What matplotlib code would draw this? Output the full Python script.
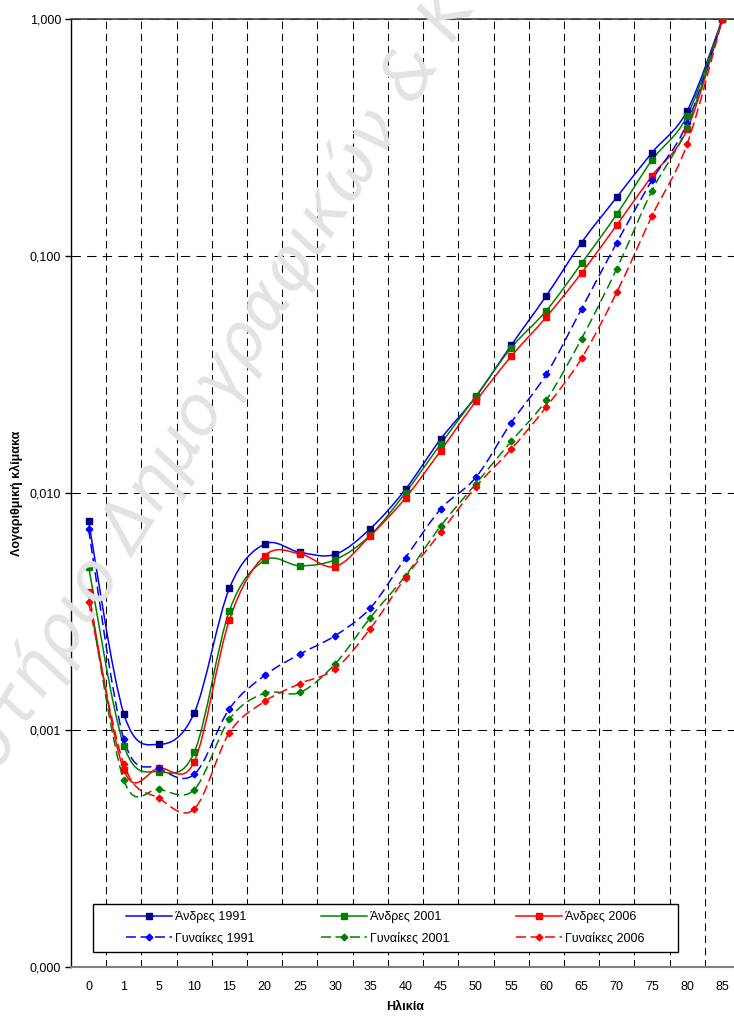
import numpy as np
import matplotlib
matplotlib.use("Agg")
import matplotlib.pyplot as plt
from matplotlib.path import Path
from matplotlib.patches import PathPatch, Rectangle
from matplotlib.lines import Line2D
from matplotlib.ticker import FixedLocator, NullLocator

plt.rcParams['font.family'] = ['Liberation Sans', 'DejaVu Sans']

# age groups (category axis)
ages = ['0', '1', '5', '10', '15', '20', '25', '30', '35', '40', '45',
        '50', '55', '60', '65', '70', '75', '80', '85']

# probabilities of death
men_1991 = [0.0076, 0.00117, 0.00087, 0.00118, 0.00397, 0.00609, 0.00562, 0.00551, 0.00707,
            0.01037, 0.0169, 0.0255, 0.042, 0.068, 0.114, 0.177, 0.273, 0.41, 1.0]
men_2001 = [0.00489, 0.00086, 0.000667, 0.000805, 0.00319, 0.0052, 0.00493, 0.00523, 0.00663,
            0.01003, 0.0161, 0.0256, 0.041, 0.0588, 0.0931, 0.150, 0.254, 0.39, 1.0]
men_2006 = [0.00383, 0.000678, 0.00069, 0.000735, 0.00292, 0.00544, 0.00554, 0.00489, 0.0066,
            0.00953, 0.0151, 0.0244, 0.0377, 0.0553, 0.0848, 0.135, 0.218, 0.342, 1.0]
women_1991 = [0.00703, 0.000914, 0.00069, 0.00065, 0.00123, 0.0017, 0.00209, 0.0025, 0.00327,
              0.00533, 0.00856, 0.01165, 0.0198, 0.0317, 0.0598, 0.1138, 0.209, 0.363, 1.0]
women_2001 = [0.00375, 0.000615, 0.000562, 0.00056, 0.00111, 0.00143, 0.00144, 0.0019, 0.00298,
              0.00448, 0.00726, 0.01095, 0.0165, 0.0247, 0.0448, 0.0884, 0.1886, 0.351, 1.0]
women_2006 = [0.00348, 0.000717, 0.000515, 0.000464, 0.000975, 0.00132, 0.00157, 0.00181, 0.00268,
              0.0044, 0.00683, 0.01063, 0.0153, 0.0231, 0.037, 0.0703, 0.1475, 0.297, 1.0]

series = [
    ('Άνδρες 1991', men_1991, '#0000FF', '#000080', 's', '-'),
    ('Άνδρες 2001', men_2001, '#008000', '#008000', 's', '-'),
    ('Άνδρες 2006', men_2006, '#FF0000', '#FF0000', 's', '-'),
    ('Γυναίκες 1991', women_1991, '#0000FF', '#0000FF', 'D', '--'),
    ('Γυναίκες 2001', women_2001, '#008000', '#008000', 'D', '--'),
    ('Γυναίκες 2006', women_2006, '#FF0000', '#FF0000', 'D', '--'),
]
DASH = (0, (6.5, 3))


def smooth_path(xs, ys):
    # Excel-like smoothed line: Bezier segments, control points in (x, log y)
    x = np.asarray(xs, float)
    ly = np.log10(np.asarray(ys, float))
    n = len(x)
    verts = [(x[0], ly[0])]
    codes = [Path.MOVETO]
    for i in range(n - 1):
        p0 = np.array([x[max(i - 1, 0)], ly[max(i - 1, 0)]])
        p1 = np.array([x[i], ly[i]])
        p2 = np.array([x[i + 1], ly[i + 1]])
        p3 = np.array([x[min(i + 2, n - 1)], ly[min(i + 2, n - 1)]])
        c1 = p1 + (p2 - p0) / 6.0
        c2 = p2 - (p3 - p1) / 6.0
        verts += [tuple(c1), tuple(c2), tuple(p2)]
        codes += [Path.CURVE4] * 3
    verts = np.array(verts)
    verts[:, 1] = 10 ** verts[:, 1]
    return Path(verts, codes)


fig = plt.figure(figsize=(7.34, 10.16), dpi=100)
ax = fig.add_axes([71 / 734, 1 - 967 / 1016, 669 / 734, 948 / 1016])

# watermark
fig.text(-0.127, 0.0965, 'Εργαστήριο Δημογραφικών & Κοινωνικών Αναλύσεων',
         rotation=58, rotation_mode='anchor', ha='left', va='baseline',
         fontsize=49, color='#e3e3e3', style='italic', family='DejaVu Sans', zorder=0)
ax.set_facecolor('none')

x = np.arange(len(ages))
handles = []
for label, vals, lc, mc, mk, ls in series:
    style = DASH if ls == '--' else '-'
    ax.add_patch(PathPatch(smooth_path(x, vals), fill=False, edgecolor=lc, lw=1.1,
                           linestyle=style, zorder=3))
    ms = 4.3 if mk == 's' else 3.4
    ax.plot(x, vals, linestyle='none', marker=mk, color=mc, markersize=ms, zorder=4)
    handles.append(Line2D([], [], color=lc, lw=1.1, linestyle=style, label=label,
                          marker=mk, markerfacecolor=mc, markeredgecolor=mc, markersize=ms))

ax.set_yscale('log')
ax.set_ylim(1e-4, 1)
ax.set_xlim(-0.5, len(ages) - 0.5)

ax.yaxis.set_major_locator(FixedLocator([1e-4, 1e-3, 1e-2, 1e-1, 1]))
ax.yaxis.set_minor_locator(NullLocator())
ax.set_yticklabels(['0,000', '0,001', '0,010', '0,100', '1,000'])
ax.set_xticks(x)
ax.set_xticklabels(ages)
ax.xaxis.set_minor_locator(FixedLocator(np.arange(len(ages) - 1) + 0.5))
ax.tick_params(axis='x', which='both', length=0, pad=10, labelsize=9)
ax.tick_params(axis='y', which='major', length=4, width=1, pad=3, labelsize=9, direction='out')

ax.grid(True, axis='x', which='minor', color='black', lw=0.75, linestyle=(0, (7.2, 4.5)))
ax.grid(True, axis='y', which='major', color='black', lw=0.75, linestyle=(0, (9, 6)))
ax.grid(False, axis='x', which='major')
ax.set_axisbelow(True)

ax.spines['right'].set_visible(False)
ax.spines['top'].set_color('#404040')
ax.spines['top'].set_linewidth(1.2)
ax.spines['bottom'].set_color('#808080')
ax.spines['bottom'].set_linewidth(1.5)
ax.spines['left'].set_color('black')
ax.spines['left'].set_linewidth(1.0)

ax.set_xlabel('Ηλικία', fontsize=9, fontweight='bold', labelpad=6)
ax.set_ylabel('Λογαριθμική κλίμακα', fontsize=9, fontweight='bold', labelpad=5)

# legend box (drawn separately so the padding matches the original)
bx0, bx1 = (93 - 71) / 669, (677.5 - 71) / 669
by0, by1 = (967 - 952) / 948, (967 - 904) / 948
ax.add_patch(Rectangle((bx0, by0), bx1 - bx0, by1 - by0, transform=ax.transAxes,
                       facecolor='white', edgecolor='black', lw=1.0, zorder=6, clip_on=False))
order = [0, 3, 1, 4, 2, 5]  # row 1: men, row 2: women
leg = ax.legend(handles=[handles[i] for i in order], ncol=3, frameon=False, fontsize=9,
                loc='center', bbox_to_anchor=((bx0 + bx1) / 2, (by0 + by1) / 2),
                handlelength=3.7, handletextpad=0.25, columnspacing=5.3,
                labelspacing=0.75, borderpad=0)
leg.set_zorder(7)

fig.savefig('out.png', dpi=100)
